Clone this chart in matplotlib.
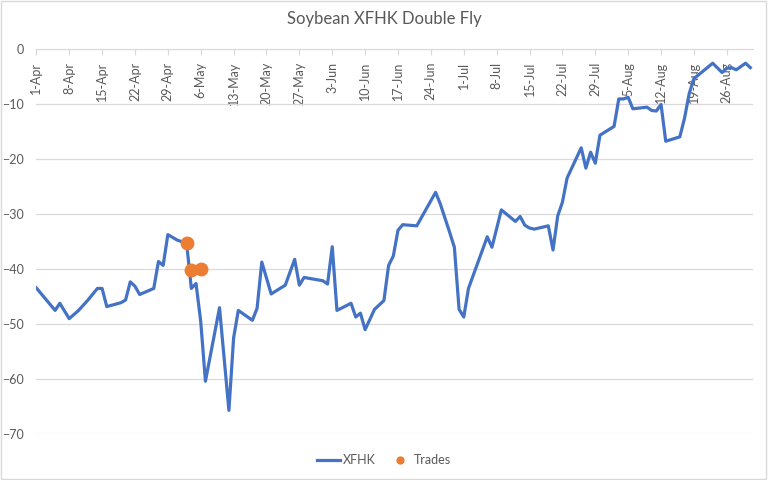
import matplotlib
matplotlib.use("Agg")
import matplotlib.pyplot as plt
import matplotlib.dates as mdates
from matplotlib.patches import Rectangle
import pandas as pd

plt.rcParams['font.family'] = ['Lato', 'DejaVu Sans']

# XFHK double fly, vertices (2019)
dates = ["2019-04-01", "2019-04-05", "2019-04-06", "2019-04-08", "2019-04-10",
         "2019-04-12", "2019-04-14", "2019-04-15", "2019-04-16", "2019-04-19",
         "2019-04-20", "2019-04-21", "2019-04-22", "2019-04-23", "2019-04-26",
         "2019-04-27", "2019-04-28", "2019-04-29", "2019-05-01", "2019-05-03",
         "2019-05-04", "2019-05-05", "2019-05-06", "2019-05-07", "2019-05-10",
         "2019-05-12", "2019-05-13", "2019-05-14", "2019-05-17", "2019-05-18",
         "2019-05-19", "2019-05-21", "2019-05-24", "2019-05-26", "2019-05-27",
         "2019-05-28", "2019-06-01", "2019-06-02", "2019-06-03", "2019-06-04",
         "2019-06-07", "2019-06-08", "2019-06-09", "2019-06-10", "2019-06-12",
         "2019-06-14", "2019-06-15", "2019-06-16", "2019-06-17", "2019-06-18",
         "2019-06-21", "2019-06-25", "2019-06-26", "2019-06-28", "2019-06-29",
         "2019-06-30", "2019-07-01", "2019-07-02", "2019-07-06", "2019-07-07",
         "2019-07-09", "2019-07-12", "2019-07-13", "2019-07-14", "2019-07-15",
         "2019-07-16", "2019-07-19", "2019-07-20", "2019-07-21", "2019-07-22",
         "2019-07-23", "2019-07-26", "2019-07-27", "2019-07-28", "2019-07-29",
         "2019-07-30", "2019-08-02", "2019-08-03", "2019-08-04", "2019-08-05",
         "2019-08-06", "2019-08-09", "2019-08-10", "2019-08-11", "2019-08-12",
         "2019-08-13", "2019-08-16", "2019-08-17", "2019-08-18", "2019-08-19",
         "2019-08-23", "2019-08-25", "2019-08-26", "2019-08-27", "2019-08-28",
         "2019-08-30", "2019-08-31"]
xfhk = [-43.4, -47.5, -46.2, -49.0, -47.5,
        -45.6, -43.5, -43.5, -46.8, -46.1,
        -45.6, -42.3, -43.1, -44.6, -43.5,
        -38.6, -39.3, -33.7, -34.7, -35.3,
        -43.5, -42.6, -49.5, -60.4, -47.0,
        -65.7, -52.5, -47.5, -49.3, -47.1,
        -38.7, -44.5, -42.9, -38.2, -42.9,
        -41.5, -42.1, -42.7, -35.9, -47.5,
        -46.2, -48.7, -48.0, -51.0, -47.3,
        -45.7, -39.3, -37.6, -32.9, -31.9,
        -32.1, -26.0, -28.1, -33.3, -36.0,
        -47.3, -48.7, -43.5, -34.1, -36.0,
        -29.2, -31.3, -30.4, -32.0, -32.5,
        -32.7, -32.1, -36.5, -30.3, -27.8,
        -23.4, -17.9, -21.6, -18.7, -20.7,
        -15.6, -14.0, -9.0, -9.0, -8.7,
        -10.8, -10.5, -11.1, -11.2, -10.0,
        -16.7, -15.9, -12.5, -8.0, -5.3,
        -2.5, -4.2, -3.4, -3.3, -3.7,
        -2.5, -3.3]

trade_dates = ["2019-05-03", "2019-05-04", "2019-05-06"]
trades = [-35.2, -40.2, -40.0]

x = pd.to_datetime(dates)
xt = pd.to_datetime(trade_dates)

grey = '#595959'
light = '#d9d9d9'

fig = plt.figure(figsize=(7.68, 4.8), dpi=100)
ax = fig.add_axes([0.0473, 0.0958, 0.9327, 0.8011])

ax.plot(x, xfhk, color='#4472C4', lw=2.3, label='XFHK', zorder=3)
ax.plot(xt, trades, 'o', color='#ED7D31', ms=9, label='Trades', zorder=4)

ax.set_ylim(-70, 0)
ax.set_yticks(range(-70, 1, 10))
ax.set_xlim(pd.Timestamp("2019-04-01"), pd.Timestamp("2019-08-31 12:00"))
ax.set_xticks(pd.date_range("2019-04-01", "2019-08-31", freq="7D"))
ax.xaxis.set_major_formatter(mdates.DateFormatter('%-d-%b'))

for s in ['top', 'left', 'right']:
    ax.spines[s].set_visible(False)
ax.spines['bottom'].set_position(('data', 0))
ax.spines['bottom'].set_color(light)
ax.spines['bottom'].set_zorder(2)

ax.tick_params(axis='x', direction='out', length=4, color=light, labelcolor=grey,
               labelsize=9, rotation=90, pad=5)
ax.tick_params(axis='y', length=0, labelcolor=grey, labelsize=9, pad=9)
ax.yaxis.grid(True, color=light, lw=0.9)
ax.set_axisbelow(True)

fig.text(0.5, 1 - 19 / 480, 'Soybean XFHK Double Fly', ha='center', va='center',
         fontsize=12, color=grey)

fig.legend(loc='center', bbox_to_anchor=(0.5, 1 - 460 / 480), ncol=2, frameon=False,
           fontsize=9, labelcolor=grey, handlelength=1.9, handletextpad=0.2,
           columnspacing=1.0, markerscale=0.55)

fig.patches.append(Rectangle((0.001, 0.002), 0.997, 0.996, transform=fig.transFigure,
                             fill=False, edgecolor=light, lw=1))

fig.savefig('out.png', dpi=100)
